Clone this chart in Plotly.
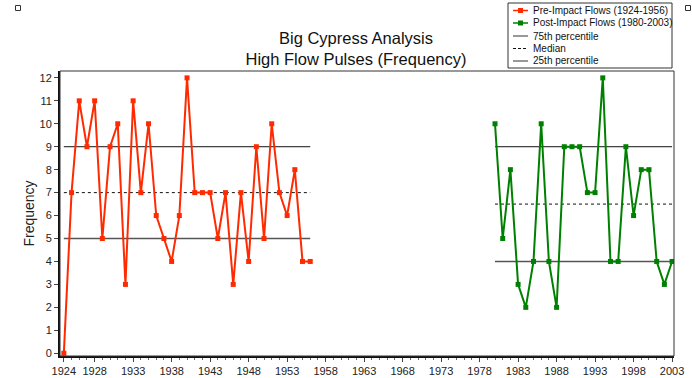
import plotly.graph_objects as go

# ---- data -------------------------------------------------------------
pre_years = list(range(1924, 1957))
pre_freq = [0, 7, 11, 9, 11, 5, 9, 10, 3, 11, 7, 10, 6, 5, 4, 6, 12,
            7, 7, 7, 5, 7, 3, 7, 4, 9, 5, 10, 7, 6, 8, 4, 4]

post_years = list(range(1980, 2004))
post_freq = [10, 5, 8, 3, 2, 4, 10, 4, 2, 9, 9, 9, 7, 7, 12, 4, 4,
             9, 6, 8, 8, 4, 3, 4]

pre_p75, pre_median, pre_p25 = 9, 7, 5
post_p75, post_median, post_p25 = 9, 6.5, 4

x_tick_years = [1924, 1928, 1933, 1938, 1943, 1948, 1953, 1958, 1963,
                1968, 1973, 1978, 1983, 1988, 1993, 1998, 2003]

legend_labels = ["Pre-Impact Flows (1924-1956)",
                 "Post-Impact Flows (1980-2003)",
                 "75th percentile", "Median", "25th percentile"]

RED = "#ff2a00"
GREEN = "#008000"

# ---- figure geometry (pixels) -----------------------------------------
W, H = 692, 378
L, R, T, B = 60, 18, 71, 22
PW, PH = W - L - R, H - T - B


def px(x):
    return (x - L) / PW


def py(y):
    return (H - B - y) / PH


fig = go.Figure()

# percentile reference lines
for yrs, vals in ((pre_years, (pre_p75, pre_median, pre_p25)),
                  (post_years, (post_p75, post_median, post_p25))):
    xs = [yrs[0], yrs[-1]]
    fig.add_trace(go.Scatter(x=xs, y=[vals[0]] * 2, mode="lines",
                             line=dict(color="#111111", width=1),
                             name="75th percentile", showlegend=False))
    fig.add_trace(go.Scatter(x=xs, y=[vals[1]] * 2, mode="lines",
                             line=dict(color="#111111", width=1, dash="3px,3px"),
                             name="Median", showlegend=False))
    fig.add_trace(go.Scatter(x=xs, y=[vals[2]] * 2, mode="lines",
                             line=dict(color="#555555", width=1.5),
                             name="25th percentile", showlegend=False))

fig.add_trace(go.Scatter(x=pre_years, y=pre_freq, mode="lines+markers",
                         line=dict(color=RED, width=2),
                         marker=dict(symbol="square", size=5, color=RED),
                         name=legend_labels[0], showlegend=False))
fig.add_trace(go.Scatter(x=post_years, y=post_freq, mode="lines+markers",
                         line=dict(color=GREEN, width=2),
                         marker=dict(symbol="square", size=5, color=GREEN),
                         name=legend_labels[1], showlegend=False))

shapes = []
annotations = []

# plot frame: thin top/right, heavier left/bottom via axis lines
shapes.append(dict(type="rect", xref="paper", yref="paper", x0=0, x1=1, y0=0, y1=1,
                   line=dict(color="#333333", width=1), layer="above"))

# legend box
lg_l, lg_r, lg_t, lg_b = 508, 672, 3, 68
shapes.append(dict(type="rect", xref="paper", yref="paper",
                   x0=px(lg_l), x1=px(lg_r), y0=py(lg_b), y1=py(lg_t),
                   fillcolor="white", line=dict(color="#333333", width=1), layer="above"))
row_y = [10.5, 23, 36, 48.5, 61]
sym_x0, sym_x1 = 513, 528
styles = [dict(color=RED, width=1.5), dict(color=GREEN, width=1.5),
          dict(color="#333333", width=1), dict(color="#111111", width=1, dash="3px,2px"),
          dict(color="#333333", width=1)]
for i, (lab, yy) in enumerate(zip(legend_labels, row_y)):
    shapes.append(dict(type="line", xref="paper", yref="paper",
                       x0=px(sym_x0), x1=px(sym_x1), y0=py(yy), y1=py(yy),
                       line=styles[i], layer="above"))
    if i < 2:
        c = (sym_x0 + sym_x1) / 2
        shapes.append(dict(type="rect", xref="paper", yref="paper",
                           x0=px(c - 2.5), x1=px(c + 2.5), y0=py(yy + 2.5), y1=py(yy - 2.5),
                           fillcolor=styles[i]["color"], line=dict(width=0), layer="above"))
    annotations.append(dict(text=lab, xref="paper", yref="paper",
                            x=px(531), y=py(yy), xanchor="left", yanchor="middle",
                            showarrow=False,
                            font=dict(family="Arial, Liberation Sans", size=10, color="#111111")))

# small corner markers
for cx in (18, 688):
    shapes.append(dict(type="rect", xref="paper", yref="paper",
                       x0=px(cx - 2.5), x1=px(cx + 2.5), y0=py(10.5), y1=py(5.5),
                       line=dict(color="#333333", width=1), fillcolor="white"))

fig.update_layout(
    width=W, height=H,
    margin=dict(l=L, r=R, t=T, b=B, pad=0, autoexpand=False),
    paper_bgcolor="white", plot_bgcolor="white",
    font=dict(family="Arial, Liberation Sans", color="#222222"),
    title=dict(text="Big Cypress Analysis<br>High Flow Pulses (Frequency)",
               x=356 / W, xref="container", xanchor="center",
               y=1 - 44 / H, yref="container", yanchor="top",
               font=dict(size=16.5, color="#111111")),
    shapes=shapes, annotations=annotations,
    showlegend=False,
    xaxis=dict(range=[1923.5, 2003.25], tickmode="array", tickvals=x_tick_years,
               ticks="outside", ticklen=4, tickcolor="#444444", tickwidth=1,
               minor=dict(dtick=1, ticks="outside", ticklen=2, tickcolor="#666666"),
               showgrid=False, zeroline=False, automargin=False,
               showline=True, linecolor="#111111", linewidth=2,
               tickfont=dict(size=11, color="#222222")),
    yaxis=dict(range=[-0.12, 12.3], dtick=1, tick0=0,
               ticks="outside", ticklen=4, tickcolor="#444444", tickwidth=1,
               showgrid=False, zeroline=False, automargin=False,
               showline=True, linecolor="#111111", linewidth=2,
               tickfont=dict(size=11, color="#222222"),
               title=dict(text="Frequency", standoff=2,
                          font=dict(size=14, color="#222222"))),
)

fig.write_html("out.html")
